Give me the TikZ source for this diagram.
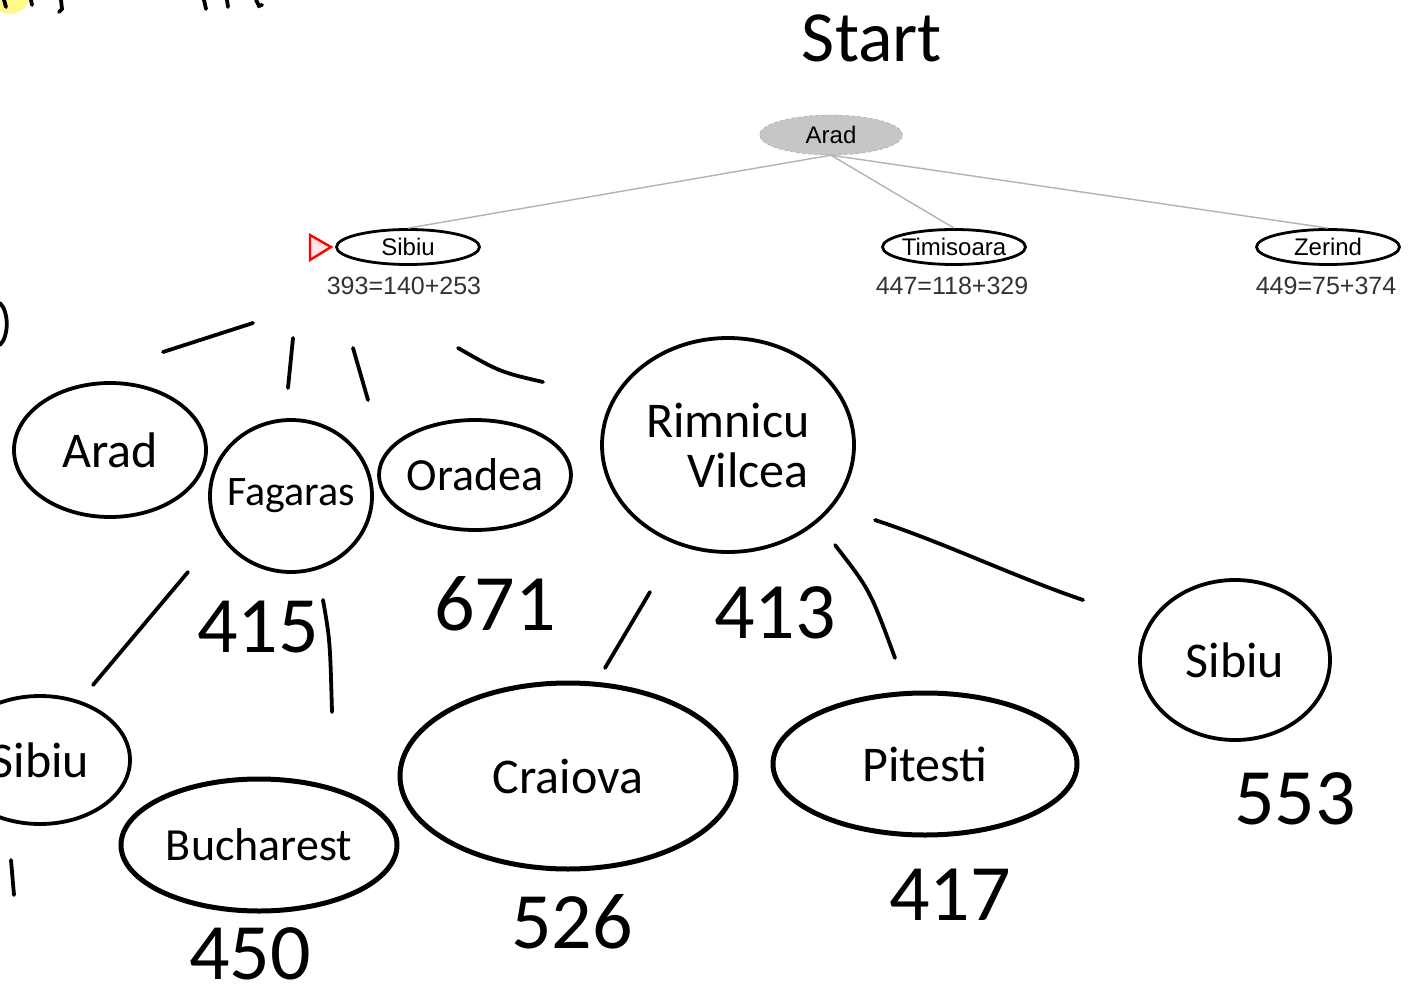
\documentclass[tikz,border=0pt]{standalone}
\usepackage{fontspec}
\setmainfont{Liberation Sans}
\newfontfamily\handfont{Carlito}
\usetikzlibrary{shapes.geometric}
\begin{document}
\begin{tikzpicture}[x=1pt,y=-1pt,
 treenode/.style={ellipse,draw=black,line width=2.8pt,minimum width=143pt,minimum height=35pt,inner sep=-20pt,font=\fontsize{24}{26}\selectfont},
 rootnode/.style={ellipse,draw=gray!80,dashed,fill=gray!45,minimum width=143pt,minimum height=40pt,inner sep=-20pt,font=\fontsize{24}{26}\selectfont},
 cost/.style={font=\fontsize{25}{27}\selectfont,text=black!80,inner sep=0pt},
 treeedge/.style={draw=gray!60,line width=1.4pt},
 hand/.style={ellipse,draw=black,line width=3.8pt,inner sep=-30pt,font=\handfont\fontsize{50}{54}\selectfont},
 bighand/.style={hand,line width=5pt},
 handnum/.style={font=\handfont\fontsize{80}{82}\selectfont,inner sep=0pt,anchor=base},
 stroke/.style={line width=3.8pt,line cap=round},
]
\useasboundingbox (0,0) rectangle (1416,1000);
\clip (0,0) rectangle (1416,1000);
% top-left fragments
\fill[yellow!45] (10,-6) circle (20);
\draw[stroke] (4,0) -- (6,7);
\draw[stroke] (31,0) -- (32,5);
\draw[stroke] (61,0) -- (62,9) -- (59,12);
\draw[stroke] (204,0) -- (206,9);
\draw[stroke] (227,0) -- (228,7);
\draw[stroke] (256,0) -- (259,6) -- (262,5);
\draw[stroke] (0,303) .. controls (9,312) and (9,336) .. (0,345);
% start label
\node[font=\handfont\fontsize{72}{76}\selectfont,inner sep=0pt] (start) at (872,38) {Start};
% search tree
\node[rootnode] (arad) at (831,135) {Arad};
\node[treenode] (sibiu) at (408,247) {Sibiu};
\node[treenode] (timi) at (954,247) {Timisoara};
\node[treenode] (zerind) at (1328,247) {Zerind};
\node[cost] (csibiu) at (404,286) {393=140+253};
\node[cost] (ctimi) at (952,286) {447=118+329};
\node[cost] (czerind) at (1326,286) {449=75+374};
\draw[treeedge] (arad.south) -- (sibiu.north);
\draw[treeedge] (arad.south) -- (timi.north);
\draw[treeedge] (arad.south) -- (zerind.north);
\draw[red,line width=2.4pt,fill=red!10] (310,235) -- (331,247) -- (310,260) -- cycle;
% handwritten expansion of Sibiu
\node[hand,minimum width=192pt,minimum height=134pt] (harad) at (110,450) {Arad};
\node[hand,minimum width=162pt,minimum height=152pt,font=\handfont\fontsize{42}{46}\selectfont] (hfag) at (291,496) {Fagaras};
\node[hand,minimum width=192pt,minimum height=110pt,font=\handfont\fontsize{46}{50}\selectfont] (hora) at (475,475) {Oradea};
\node[hand,minimum width=252pt,minimum height=214pt,align=center] (hrim) at (728,445) {Rimnicu\\[-4pt]\hspace*{40pt}Vilcea};
\node[handnum] (n415) at (258,652) {415};
\node[handnum] (n671) at (495,630) {671};
\node[handnum] (n413) at (775,638) {413};
\coordinate (s1a) at (163,352); \coordinate (s1b) at (253,323);
\coordinate (s2a) at (293,338); \coordinate (s2b) at (288,388);
\coordinate (s3a) at (353,348); \coordinate (s3b) at (368,400);
\coordinate (s4a) at (458,348); \coordinate (s4b) at (543,382);
\draw[stroke] (s1a) -- (s1b);
\draw[stroke] (s2a) -- (s2b);
\draw[stroke] (s3a) -- (s3b);
\draw[stroke] (s4a) .. controls (500,372) .. (s4b);
% expansion of Fagaras
\node[hand,minimum width=180pt,minimum height=128pt] (hsibl) at (40,760) {Sibiu};
\node[bighand,minimum width=276pt,minimum height=132pt,font=\handfont\fontsize{46}{50}\selectfont] (hbuch) at (259,845) {Bucharest};
\node[handnum] (n450) at (250,979) {450};
\coordinate (f1a) at (188,572); \coordinate (f1b) at (93,685);
\coordinate (f2a) at (323,600); \coordinate (f2b) at (332,712);
\coordinate (f3a) at (11,860); \coordinate (f3b) at (14,895);
\draw[stroke] (f1a) -- (f1b);
\draw[stroke] (f2a) .. controls (330,640) .. (f2b);
\draw[stroke] (f3a) -- (f3b);
% expansion of Rimnicu Vilcea
\node[bighand,minimum width=336pt,minimum height=186pt] (hcra) at (568,776) {Craiova};
\node[bighand,minimum width=304pt,minimum height=142pt] (hpit) at (925,764) {Pitesti};
\node[hand,minimum width=190pt,minimum height=160pt] (hsibr) at (1235,660) {Sibiu};
\node[handnum] (n526) at (572,948) {526};
\node[handnum] (n417) at (950,920) {417};
\node[handnum] (n553) at (1295,824) {553};
\coordinate (r1a) at (650,592); \coordinate (r1b) at (605,668);
\coordinate (r2a) at (835,545); \coordinate (r2b) at (895,658);
\coordinate (r3a) at (875,520); \coordinate (r3b) at (1083,600);
\draw[stroke] (r1a) -- (r1b);
\draw[stroke] (r2a) .. controls (870,590) .. (r2b);
\draw[stroke] (r3a) .. controls (950,545) and (1010,575) .. (r3b);
\end{tikzpicture}
\end{document}
